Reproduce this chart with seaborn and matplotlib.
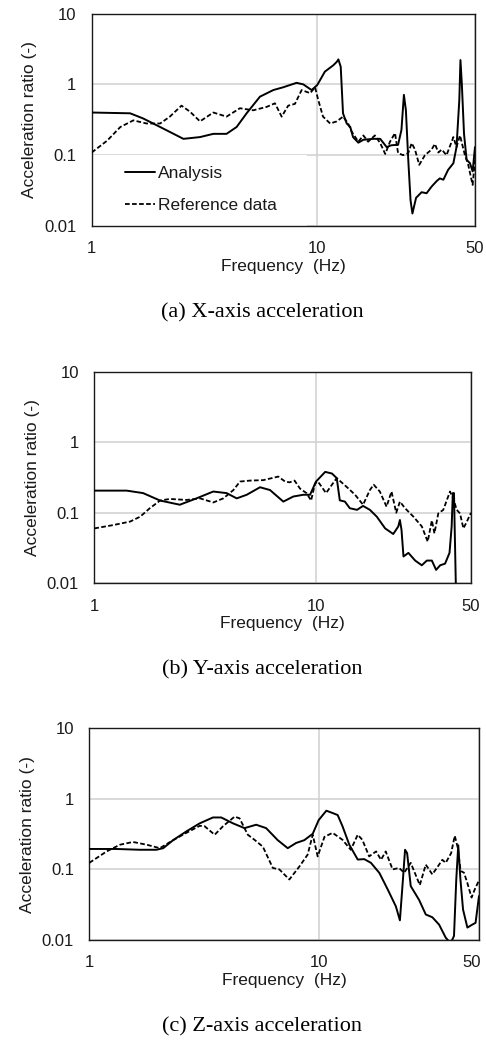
import numpy as np
import pandas as pd
import matplotlib
matplotlib.use("Agg")
import matplotlib.pyplot as plt
import matplotlib.transforms as mtransforms
from matplotlib.patches import Rectangle
import seaborn as sns

# ---------------- data ----------------
x_ticks = [1, 10, 50]
x_tick_labels = ["1", "10", "50"]
y_ticks = [0.01, 0.1, 1, 10]
y_tick_labels = ["0.01", "0.1", "1", "10"]
series_names = ["Analysis", "Reference data"]
captions = ["(a) X-axis acceleration", "(b) Y-axis acceleration", "(c) Z-axis acceleration"]

a_ana_f = [1.0, 1.48, 1.69, 2.01, 2.55, 3.02, 3.46, 3.96, 4.39, 4.86, 5.57, 6.38, 7.07, 8.09, 8.66, 9.44, 10.0, 10.8, 11.8, 12.2, 12.4, 12.7, 13.0, 13.5, 14.0, 14.4, 15.2, 16.0, 17.7, 19.0, 20.3, 21.3, 22.8, 23.6, 24.2, 24.7, 25.3, 25.9, 26.4, 27.4, 29.0, 30.5, 32.1, 33.8, 34.9, 36.2, 38.0, 40.1, 41.4, 42.6, 43.1, 43.7, 44.7, 45.9, 47.5, 48.8, 50.0]
a_ana_v = [0.40, 0.39, 0.33, 0.25, 0.17, 0.18, 0.20, 0.20, 0.25, 0.39, 0.67, 0.83, 0.91, 1.05, 1.0, 0.83, 0.98, 1.51, 1.87, 2.08, 2.25, 1.77, 0.39, 0.28, 0.25, 0.18, 0.15, 0.165, 0.17, 0.17, 0.13, 0.138, 0.14, 0.227, 0.71, 0.43, 0.086, 0.023, 0.015, 0.025, 0.030, 0.029, 0.036, 0.043, 0.047, 0.045, 0.062, 0.077, 0.13, 0.60, 2.2, 1.03, 0.20, 0.086, 0.077, 0.059, 0.13]
a_ref_f = [1.0, 1.17, 1.34, 1.53, 1.75, 2.01, 2.22, 2.5, 2.73, 3.02, 3.46, 3.96, 4.54, 5.2, 5.96, 6.49, 6.95, 7.43, 7.96, 8.52, 9.3, 9.77, 10.1, 10.6, 11.4, 12.2, 13.0, 13.7, 14.2, 15.2, 16.0, 16.8, 18.0, 19.0, 20.0, 21.0, 22.1, 22.8, 24.0, 25.3, 26.2, 27.1, 28.3, 30.0, 32.1, 33.2, 34.4, 35.6, 37.4, 40.1, 41.4, 42.9, 45.1, 46.5, 48.8, 50.0]
a_ref_v = [0.109, 0.16, 0.25, 0.31, 0.28, 0.28, 0.35, 0.50, 0.41, 0.30, 0.40, 0.35, 0.46, 0.43, 0.48, 0.54, 0.35, 0.50, 0.53, 0.83, 0.75, 0.91, 0.60, 0.35, 0.28, 0.30, 0.35, 0.28, 0.215, 0.155, 0.19, 0.155, 0.19, 0.148, 0.104, 0.155, 0.205, 0.107, 0.10, 0.107, 0.148, 0.12, 0.073, 0.10, 0.12, 0.144, 0.109, 0.12, 0.10, 0.18, 0.13, 0.19, 0.10, 0.077, 0.038, 0.086]

b_ana_f = [1.0, 1.40, 1.66, 1.98, 2.43, 2.89, 3.44, 3.95, 4.39, 4.87, 5.59, 6.2, 7.12, 7.9, 8.77, 9.4, 10.0, 11.0, 11.8, 12.4, 12.8, 13.5, 14.2, 15.3, 16.3, 17.5, 18.8, 20.5, 22.3, 23.5, 23.9, 24.3, 24.8, 26.1, 28.0, 30.0, 31.6, 33.3, 34.8, 36.3, 38.2, 40.0, 40.9, 41.4, 41.9, 42.7, 43.2]
b_ana_v = [0.206, 0.206, 0.19, 0.149, 0.13, 0.16, 0.20, 0.19, 0.16, 0.18, 0.23, 0.21, 0.144, 0.17, 0.18, 0.18, 0.277, 0.38, 0.36, 0.31, 0.15, 0.144, 0.116, 0.11, 0.125, 0.11, 0.088, 0.060, 0.050, 0.064, 0.079, 0.057, 0.024, 0.027, 0.021, 0.018, 0.021, 0.021, 0.0155, 0.018, 0.019, 0.027, 0.064, 0.19, 0.19, 0.01, 0.003]
b_ref_f = [1.0, 1.22, 1.45, 1.61, 1.78, 1.98, 2.19, 2.61, 3.0, 3.44, 3.82, 4.24, 4.54, 5.04, 5.78, 6.76, 7.25, 7.6, 8.0, 8.47, 9.06, 9.5, 9.9, 10.2, 11.1, 11.8, 12.4, 13.7, 15.0, 16.3, 17.5, 18.2, 19.4, 20.8, 21.9, 23.0, 23.9, 25.2, 27.5, 30.0, 31.9, 33.3, 34.2, 35.6, 37.5, 40.2, 41.6, 43.1, 44.6, 46.2, 47.9, 50.0]
b_ref_v = [0.060, 0.067, 0.075, 0.088, 0.116, 0.149, 0.157, 0.152, 0.16, 0.14, 0.16, 0.21, 0.277, 0.286, 0.29, 0.326, 0.277, 0.27, 0.286, 0.22, 0.19, 0.149, 0.26, 0.277, 0.19, 0.25, 0.31, 0.235, 0.18, 0.13, 0.21, 0.25, 0.20, 0.122, 0.20, 0.10, 0.144, 0.116, 0.088, 0.064, 0.039, 0.078, 0.051, 0.098, 0.11, 0.20, 0.16, 0.11, 0.098, 0.060, 0.075, 0.1]

c_ana_f = [1.0, 1.31, 1.66, 1.96, 2.1, 2.32, 2.65, 3.03, 3.46, 3.76, 4.23, 4.75, 5.34, 5.9, 6.63, 7.33, 7.97, 8.66, 9.42, 10.0, 10.8, 11.5, 12.1, 12.7, 13.6, 14.8, 15.8, 16.9, 18.4, 20.0, 21.7, 22.6, 23.3, 23.8, 24.3, 25.2, 27.4, 29.3, 31.3, 33.5, 35.8, 37.6, 38.9, 39.8, 40.6, 41.5, 42.6, 44.5, 46.7, 48.3, 50.0]
c_ana_v = [0.195, 0.195, 0.19, 0.19, 0.20, 0.26, 0.346, 0.45, 0.545, 0.545, 0.45, 0.385, 0.43, 0.385, 0.26, 0.20, 0.237, 0.26, 0.32, 0.50, 0.68, 0.63, 0.59, 0.41, 0.224, 0.138, 0.14, 0.124, 0.089, 0.052, 0.030, 0.019, 0.072, 0.19, 0.17, 0.058, 0.037, 0.023, 0.021, 0.0165, 0.0108, 0.009, 0.0114, 0.072, 0.22, 0.072, 0.027, 0.015, 0.0165, 0.0175, 0.042]
c_ref_f = [1.0, 1.19, 1.36, 1.55, 1.78, 2.03, 2.32, 2.65, 3.03, 3.18, 3.52, 3.83, 4.3, 4.52, 4.91, 5.25, 5.71, 6.31, 6.74, 7.45, 8.24, 8.95, 9.42, 9.9, 10.6, 11.5, 12.7, 13.8, 14.8, 15.5, 16.6, 17.8, 18.7, 19.6, 21.0, 22.4, 23.6, 25.2, 27.6, 29.3, 31.3, 33.5, 34.6, 35.8, 37.8, 39.2, 40.3, 41.6, 43.0, 44.5, 46.4, 47.9, 50.0]
c_ref_v = [0.124, 0.18, 0.224, 0.245, 0.224, 0.20, 0.26, 0.33, 0.415, 0.41, 0.31, 0.41, 0.56, 0.53, 0.31, 0.263, 0.21, 0.105, 0.10, 0.072, 0.11, 0.162, 0.31, 0.153, 0.29, 0.33, 0.263, 0.19, 0.31, 0.263, 0.153, 0.18, 0.137, 0.18, 0.10, 0.105, 0.09, 0.124, 0.06, 0.117, 0.085, 0.117, 0.137, 0.124, 0.17, 0.30, 0.21, 0.095, 0.09, 0.064, 0.040, 0.052, 0.07]

panels = [
    ((a_ana_f, a_ana_v), (a_ref_f, a_ref_v)),
    ((b_ana_f, b_ana_v), (b_ref_f, b_ref_v)),
    ((c_ana_f, c_ana_v), (c_ref_f, c_ref_v)),
]

# ---------------- style ----------------
sns.set_theme(style="white")
plt.rcParams["font.family"] = ["Liberation Sans", "DejaVu Sans"]

W, H = 486, 1045
fig = plt.figure(figsize=(W / 100, H / 100), dpi=100)
fig.patch.set_facecolor("white")

# axes boxes in pixels: left, top, right, bottom
boxes = [(91.7, 13.5, 475.0, 226.0), (94.3, 371.7, 471.0, 583.3), (89.3, 728.3, 479.0, 940.0)]
caption_y = [313, 670, 1027]
caption_x = 262
last_label_shift = [0, 0, -7]   # px shift of the "50" label, as in the reference

fs = 12
fs_lab = 12.5
grid_col = "#d0d0d0"
txt_col = "#1a1a1a"
dash = (0, (2.6, 1.3))

for i, ((af, av), (rf, rv)) in enumerate(panels):
    l, t, r, b = boxes[i]
    ax = fig.add_axes([l / W, 1 - b / H, (r - l) / W, (b - t) / H])
    ax.set_xscale("log")
    ax.set_yscale("log")
    ax.set_axisbelow(True)

    df_a = pd.DataFrame({"f": af, "v": av})
    df_r = pd.DataFrame({"f": rf, "v": rv})
    sns.lineplot(data=df_a, x="f", y="v", ax=ax, color="black", lw=1.4,
                 label=series_names[0], sort=False, zorder=3)
    sns.lineplot(data=df_r, x="f", y="v", ax=ax, color="black", lw=1.3,
                 linestyle=dash, label=series_names[1], sort=False, zorder=3)

    ax.set_xlim(1, 50)
    ax.set_ylim(0.01, 10)
    ax.set_xticks(x_ticks)
    ax.set_xticklabels(x_tick_labels)
    ax.set_yticks(y_ticks)
    ax.set_yticklabels(y_tick_labels)
    ax.xaxis.set_minor_locator(matplotlib.ticker.NullLocator())
    ax.yaxis.set_minor_locator(matplotlib.ticker.NullLocator())
    ax.tick_params(axis="both", length=0, labelsize=fs, colors=txt_col)
    ax.tick_params(axis="y", pad=11)
    ax.tick_params(axis="x", pad=11)
    ax.grid(True, which="major", color=grid_col, lw=1.1)
    for s in ax.spines.values():
        s.set_color(txt_col)
        s.set_linewidth(1.0)
        s.set_visible(True)

    if last_label_shift[i]:
        lab = ax.get_xticklabels()[-1]
        lab.set_transform(lab.get_transform() +
                          mtransforms.ScaledTranslation(last_label_shift[i] / 100, 0, fig.dpi_scale_trans))

    ax.set_xlabel("Frequency  (Hz)", fontsize=fs_lab, color=txt_col, labelpad=2)
    ax.set_ylabel("Acceleration ratio (-)", fontsize=fs_lab, color=txt_col, labelpad=5)

    if i == 0:
        # white legend background masking the grid
        ax.add_patch(Rectangle((0, 0), 0.5617, 0.335, transform=ax.transAxes,
                               facecolor="white", edgecolor="none", zorder=1))
        leg = ax.legend(loc="center left", bbox_to_anchor=(0.087, 0.172),
                        frameon=False, fontsize=fs_lab, handlelength=1.75,
                        handletextpad=0.15, labelspacing=1.0, borderpad=0,
                        borderaxespad=0)
        for txt in leg.get_texts():
            txt.set_color(txt_col)
    else:
        lg = ax.get_legend()
        if lg is not None:
            lg.remove()

    fig.text(caption_x / W, 1 - caption_y[i] / H, captions[i], ha="center", va="center",
             fontsize=16, family=["Liberation Serif", "DejaVu Serif"], color="black")

fig.savefig("out.png", dpi=100, facecolor="white")
